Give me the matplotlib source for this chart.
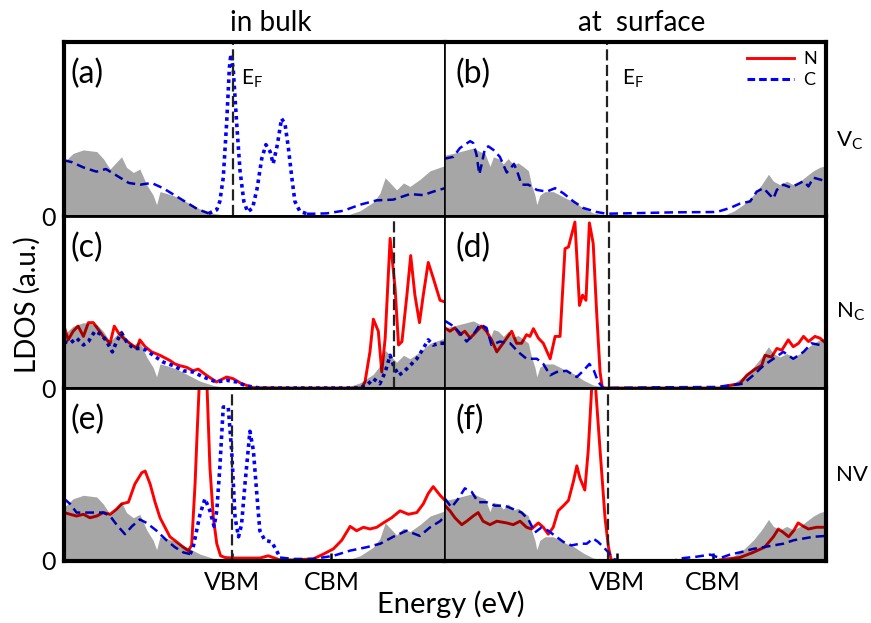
import matplotlib
matplotlib.use('Agg')
import matplotlib.pyplot as plt
import numpy as np

plt.rcParams['font.family'] = ['Lato', 'DejaVu Sans']
plt.rcParams['mathtext.fontset'] = 'custom'
plt.rcParams['mathtext.rm'] = 'Lato'
plt.rcParams['mathtext.it'] = 'Lato:italic'

# ---------------- data (energy in arbitrary units 0..100, LDOS in a.u.) ----------------
# total LDOS (grey) in bulk and at surface
tot_bulk_x = [0, 2.4, 5.1, 8.6, 10.3, 12.1, 13.8, 15.1, 16.4, 18.2, 19.9, 21.7, 23.4, 24.3, 25.2, 26.9,
              29.6, 32.2, 35.7, 39.2, 42, 50, 60, 70, 75, 77.7, 81.2, 82.9, 84.3, 85.6, 87.3, 89.1,
              90.8, 93.4, 96.1, 98.7, 100]
tot_bulk_y = [0.31, 0.36, 0.38, 0.37, 0.33, 0.27, 0.31, 0.34, 0.28, 0.25, 0.27, 0.18, 0.12, 0.065, 0.14, 0.13,
              0.11, 0.08, 0.04, 0.015, 0.006, 0.004, 0.004, 0.004, 0.01, 0.03, 0.08, 0.13, 0.22, 0.19, 0.15, 0.19,
              0.17, 0.21, 0.26, 0.28, 0.29]
tot_surf_x = [0, 2.2, 3.9, 5.7, 7.4, 9.2, 10.5, 11.8, 12.7, 14.0, 15.3, 16.6, 17.9, 19.2, 20.5, 21.9, 22.7,
              23.6, 24.1, 24.9, 26.2, 28.4, 30.2, 31.9, 33.7, 36.3, 38.9, 41.6, 50, 60, 73, 75.7, 78.3,
              80.9, 83.1, 84.9, 86.2, 87.9, 89.7, 91.4, 93.2, 94.9, 96.7, 98.4, 100]
tot_surf_y = [0.35, 0.36, 0.37, 0.38, 0.39, 0.37, 0.36, 0.285, 0.34, 0.33, 0.30, 0.33, 0.295, 0.305, 0.285, 0.26, 0.18,
              0.12, 0.065, 0.12, 0.14, 0.14, 0.12, 0.10, 0.084, 0.046, 0.017, 0.008, 0.003, 0.003, 0.003, 0.027, 0.065,
              0.12, 0.18, 0.24, 0.20, 0.18, 0.20, 0.18, 0.20, 0.23, 0.26, 0.28, 0.29]

# (a) V_C bulk
c_a_x = [0, 2, 5, 8.5, 11, 14, 17, 20, 23, 26, 29, 32, 35, 38, 40.1, 40.9, 41.8, 42.7, 43.4, 43.8, 44.4, 45.3,
         46.2, 47.2, 48.2, 49.5, 50.7, 51.9, 53.0, 54.1, 54.9, 56.0, 57.1, 58.0, 58.9, 59.8, 60.6, 61.9, 63.7,
         65.4, 68.9, 73.3, 77.7, 82.1, 86.4, 90.8, 94.3, 96.9, 100]
c_a_y = [0.32, 0.31, 0.28, 0.255, 0.27, 0.23, 0.19, 0.18, 0.19, 0.16, 0.12, 0.08, 0.04, 0.015, 0.036, 0.084, 0.22,
         0.54, 0.85, 0.93, 0.85, 0.54, 0.26, 0.084, 0.023, 0.046, 0.16, 0.33, 0.41, 0.37, 0.30, 0.41, 0.56, 0.53,
         0.39, 0.22, 0.084, 0.027, 0.013, 0.013, 0.015, 0.03, 0.065, 0.09, 0.094, 0.126, 0.12, 0.14, 0.16]

# (b) V_C surface
c_b_x = [0, 2.2, 3.9, 5.2, 6.6, 7.4, 8.3, 9.0, 9.6, 10.5, 11.4, 12.7, 14.4, 16.2, 17.1, 18.1, 19.2, 20.1, 21.9,
         24.1, 26.7, 28.9, 31.1, 33.7, 36.3, 39.8, 42.4, 51.2, 59.9, 71.3, 74.8, 77.4, 80.1, 81.8, 83.6, 85.3,
         86.2, 87.1, 88.8, 90.6, 92.3, 94.1, 95.4, 96.7, 98.4, 100]
c_b_y = [0.33, 0.34, 0.39, 0.41, 0.43, 0.42, 0.35, 0.24, 0.295, 0.39, 0.40, 0.38, 0.34, 0.25, 0.27, 0.30, 0.24, 0.18,
         0.18, 0.15, 0.14, 0.16, 0.13, 0.084, 0.046, 0.023, 0.013, 0.017, 0.021, 0.023, 0.046, 0.071, 0.084, 0.14,
         0.16, 0.12, 0.10, 0.15, 0.18, 0.165, 0.18, 0.20, 0.17, 0.22, 0.21, 0.20]

# (c) N_C bulk
n_c_x = [0, 1.1, 2.4, 3.7, 5.1, 6.4, 7.7, 9.0, 10.3, 12.1, 13.2, 14.3, 15.6, 17.3, 19.1, 19.9, 21.3, 23.0, 25.2,
         27.8, 29.1, 30.4, 32.2, 33.9, 35.2, 37.4, 40.0, 42.7, 44.4, 46.6, 49.7, 60, 70, 78.1, 79.0, 80.3, 81.2,
         82.5, 83.4, 84.3, 85.6, 86.9, 87.8, 88.7, 90.0, 91.0, 92.1, 93.3, 94.3, 95.6, 96.9, 98.7, 100]
n_c_y = [0.36, 0.28, 0.33, 0.36, 0.30, 0.38, 0.38, 0.34, 0.30, 0.26, 0.36, 0.32, 0.29, 0.26, 0.23, 0.28, 0.24, 0.21,
         0.19, 0.16, 0.14, 0.13, 0.12, 0.10, 0.11, 0.074, 0.035, 0.064, 0.054, 0.025, 0.002, 0.0, 0.0, 0.0, 0.035,
         0.21, 0.40, 0.33, 0.093, 0.29, 0.87, 0.58, 0.25, 0.27, 0.54, 0.77, 0.54, 0.38, 0.54, 0.73, 0.64, 0.51, 0.50]
c_c_x = [0, 1.6, 3.3, 5.1, 6.4, 8.1, 9.9, 11.2, 12.7, 13.8, 15.1, 16.4, 18.2, 19.9, 21.7, 23.4, 26.1, 28.7, 31.3,
         33.9, 36.6, 40.0, 42.7, 45.3, 47.9, 51.4, 65, 77.7, 79.5, 81.2, 82.9, 84.3, 85.6, 86.5, 87.8, 89.1, 90.8,
         92.6, 94.3, 95.6, 96.9, 98.7, 100]
c_c_y = [0.27, 0.26, 0.29, 0.25, 0.27, 0.33, 0.31, 0.27, 0.21, 0.27, 0.32, 0.27, 0.23, 0.23, 0.22, 0.19, 0.15, 0.13,
         0.10, 0.093, 0.064, 0.035, 0.045, 0.035, 0.012, 0.0, 0.0, 0.0, 0.016, 0.054, 0.025, 0.093, 0.19, 0.13,
         0.074, 0.093, 0.13, 0.17, 0.23, 0.28, 0.25, 0.26, 0.26]

# (d) N_C surface
n_d_x = [0, 1.3, 2.6, 3.9, 5.2, 6.6, 7.9, 9.6, 10.9, 12.2, 13.6, 14.9, 16.2, 17.5, 18.8, 20.1, 21.4, 22.3, 23.2,
         24.5, 25.8, 27.6, 28.9, 30.2, 31.5, 32.4, 34.1, 35.3, 36.1, 37.0, 37.9, 38.9, 39.8, 40.7, 41.3, 55, 72.2,
         74.8, 77.4, 79.2, 81.4, 83.1, 84.0, 85.7, 87.1, 88.4, 90.1, 91.4, 92.8, 94.1, 95.4, 97.1, 98.4, 100]
n_d_y = [0.35, 0.33, 0.35, 0.31, 0.33, 0.29, 0.32, 0.36, 0.33, 0.28, 0.21, 0.25, 0.29, 0.33, 0.26, 0.26, 0.31, 0.30,
         0.345, 0.29, 0.26, 0.17, 0.30, 0.30, 0.81, 0.82, 0.965, 0.48, 0.54, 0.51, 0.96, 0.84, 0.44, 0.093, 0.0,
         0.0, 0.0, 0.016, 0.025, 0.074, 0.11, 0.13, 0.19, 0.18, 0.23, 0.22, 0.28, 0.24, 0.26, 0.30, 0.27, 0.30,
         0.29, 0.26]
c_d_x = [0, 2.2, 3.9, 5.7, 7.4, 9.2, 10.9, 12.2, 14.4, 17.1, 19.2, 21.4, 24.1, 25.8, 27.6, 29.3, 31.9, 34.6, 36.3,
         37.9, 39.1, 40.2, 41.6, 55, 71.3, 74.8, 78.3, 80.9, 83.6, 86.2, 88.8, 91.4, 94.1, 96.2, 98.4, 100]
c_d_y = [0.39, 0.36, 0.32, 0.27, 0.31, 0.37, 0.35, 0.25, 0.27, 0.26, 0.21, 0.17, 0.17, 0.14, 0.074, 0.093, 0.10,
         0.064, 0.10, 0.14, 0.10, 0.035, 0.0, 0.004, 0.006, 0.016, 0.025, 0.074, 0.13, 0.17, 0.21, 0.17, 0.21, 0.26,
         0.25, 0.24]

# (e) NV bulk
n_e_x = [0, 1.6, 3.3, 5.1, 6.8, 8.6, 10.3, 12.1, 13.8, 15.1, 16.9, 18.6, 20.4, 21.3, 22.6, 23.9, 25.2, 26.5, 27.8,
         29.6, 31.3, 32.6, 33.5, 34.4, 35.0, 35.4, 36.5, 37.6, 38.3, 39.2, 40.1, 41.1, 42.3, 44.4, 47.9, 51.4,
         53.6, 54.9, 56.7, 60.2, 65.4, 68.1, 70.7, 72.9, 75.1, 76.8, 78.6, 80.3, 82.1, 83.8, 86.0, 88.2, 90.4,
         92.6, 94.3, 95.6, 96.9, 98.7, 100]
n_e_y = [0.28, 0.27, 0.26, 0.27, 0.25, 0.26, 0.28, 0.27, 0.30, 0.33, 0.34, 0.445, 0.51, 0.52, 0.445, 0.34, 0.25,
         0.195, 0.14, 0.11, 0.08, 0.06, 0.09, 0.445, 0.77, 0.97, 1.5, 0.97, 0.54, 0.25, 0.10, 0.03, 0.02, 0.017,
         0.017, 0.017, 0.03, 0.02, 0.006, 0.006, 0.012, 0.04, 0.07, 0.12, 0.20, 0.175, 0.195, 0.185, 0.195, 0.22,
         0.25, 0.29, 0.27, 0.28, 0.33, 0.39, 0.43, 0.38, 0.35]
c_e_x = [0, 1.6, 3.3, 5.1, 7.7, 10.3, 12.1, 13.8, 16.0, 17.8, 19.9, 21.7, 24.3, 26.9, 29.1, 31.3, 33.1, 33.9, 34.8,
         35.7, 37.0, 38.3, 39.4, 40.1, 40.9, 41.8, 43.1, 44.0, 44.9, 45.8, 46.6, 47.5, 48.8, 49.7, 50.6, 51.4,
         52.7, 54.5, 55.8, 56.7, 60.2, 65.4, 70.7, 75.1, 79.5, 83.0, 86.4, 89.9, 93.4, 96.1, 98.7, 100]
c_e_y = [0.36, 0.33, 0.28, 0.28, 0.28, 0.28, 0.26, 0.21, 0.155, 0.20, 0.24, 0.22, 0.175, 0.12, 0.08, 0.05, 0.04,
         0.08, 0.175, 0.27, 0.36, 0.29, 0.20, 0.29, 0.54, 0.89, 0.89, 0.64, 0.25, 0.14, 0.21, 0.445, 0.75, 0.64,
         0.39, 0.175, 0.12, 0.11, 0.06, 0.02, 0.012, 0.012, 0.03, 0.06, 0.08, 0.10, 0.14, 0.175, 0.145, 0.195,
         0.23, 0.26]

# (f) NV surface
n_f_x = [0, 1.3, 2.6, 4.4, 5.7, 7.4, 8.7, 10.0, 11.8, 13.6, 16.2, 17.9, 19.7, 21.4, 22.7, 24.5, 25.8, 27.1, 28.4,
         29.7, 31.1, 32.4, 33.7, 34.6, 35.4, 36.7, 37.6, 38.5, 39.0, 39.6, 40.7, 42.0, 42.9, 43.7, 55, 70.4, 73.9,
         77.4, 80.9, 83.9, 86.2, 87.5, 88.8, 90.2, 91.5, 92.7, 94.1, 95.4, 97.5, 100]
n_f_y = [0.32, 0.29, 0.25, 0.21, 0.23, 0.26, 0.28, 0.23, 0.21, 0.23, 0.22, 0.21, 0.23, 0.195, 0.185, 0.22, 0.195,
         0.155, 0.195, 0.29, 0.32, 0.35, 0.46, 0.55, 0.48, 0.41, 0.64, 1.0, 1.3, 0.98, 0.64, 0.25, 0.08, 0.0, 0.0,
         0.0, 0.012, 0.02, 0.05, 0.08, 0.14, 0.185, 0.165, 0.14, 0.175, 0.22, 0.20, 0.185, 0.195, 0.195]
c_f_x = [0, 1.7, 3.5, 5.2, 7.0, 8.7, 10.9, 13.1, 15.7, 17.9, 20.1, 21.9, 23.6, 25.4, 27.1, 28.9, 31.1, 33.2, 35.4,
         37.2, 38.9, 40.2, 41.6, 42.9, 44.2, 45.9, 59.9, 62.6, 66.1, 69.6, 72.2, 74.8, 77.4, 80.9, 83.6, 86.2,
         88.8, 91.5, 94.1, 96.7, 100]
c_f_y = [0.36, 0.31, 0.36, 0.42, 0.40, 0.34, 0.34, 0.32, 0.32, 0.30, 0.28, 0.24, 0.165, 0.195, 0.175, 0.145, 0.11,
         0.09, 0.10, 0.10, 0.13, 0.11, 0.08, 0.05, 0.012, 0.0, 0.002, 0.017, 0.025, 0.037, 0.017, 0.037, 0.05, 0.07,
         0.08, 0.09, 0.10, 0.12, 0.13, 0.14, 0.145]

# Fermi levels and band edges
ef_pos = {'a': 44.4, 'b': 42.4, 'c': 86.7, 'd': 43.1, 'e': 44.0, 'f': 42.9}
edge_bulk = [44.0, 70.2]
edge_surf = [45.1, 70.4]
edge_labels = ['VBM', 'CBM']
# energy window where the C curve is drawn dotted (defect states)
c_dot_window = {'a': (38, 63.7), 'c': (0, 100), 'e': (33.1, 56.7)}

col_titles = ['in bulk', 'at  surface']
row_labels = ['V$_\\mathrm{C}$', 'N$_\\mathrm{C}$', 'NV']

# ---------------- figure ----------------
fig = plt.figure(figsize=(8.71, 6.23), dpi=100)
W, H = 871.0, 623.0
col_x = [64 / W, 445 / W]
col_w = 381 / W
row_b = [1 - 216 / H, 1 - 388 / H, 1 - 561 / H]
row_h = [174 / H, 172 / H, 173 / H]

panels = {
    'a': dict(tot=(tot_bulk_x, tot_bulk_y), n=None, c=(c_a_x, c_a_y)),
    'b': dict(tot=(tot_surf_x, tot_surf_y), n=None, c=(c_b_x, c_b_y)),
    'c': dict(tot=(tot_bulk_x, tot_bulk_y), n=(n_c_x, n_c_y), c=(c_c_x, c_c_y)),
    'd': dict(tot=(tot_surf_x, tot_surf_y), n=(n_d_x, n_d_y), c=(c_d_x, c_d_y)),
    'e': dict(tot=(tot_bulk_x, tot_bulk_y), n=(n_e_x, n_e_y), c=(c_e_x, c_e_y)),
    'f': dict(tot=(tot_surf_x, tot_surf_y), n=(n_f_x, n_f_y), c=(c_f_x, c_f_y)),
}
order = [['a', 'b'], ['c', 'd'], ['e', 'f']]

DASH = (0, (3.5, 2.0))
DOT = (0, (1.0, 1.1))

for r in range(3):
    for cidx in range(2):
        key = order[r][cidx]
        p = panels[key]
        ax = fig.add_axes([col_x[cidx], row_b[r], col_w, row_h[r]])
        ax.set_xlim(0, 100)
        ax.set_ylim(0, 1)

        if p['n'] is not None:
            ax.plot(p['n'][0], p['n'][1], color='red', lw=2.1, zorder=2, label='N')

        cx = np.array(p['c'][0]); cy = np.array(p['c'][1])
        if key in c_dot_window:
            lo, hi = c_dot_window[key]
            m_dot = (cx >= lo) & (cx <= hi)
            m_l = cx <= lo
            m_r = cx >= hi
            if m_l.sum() > 1:
                ax.plot(cx[m_l], cy[m_l], color='blue', lw=1.8, linestyle=DASH, zorder=2)
            if m_r.sum() > 1:
                ax.plot(cx[m_r], cy[m_r], color='blue', lw=1.8, linestyle=DASH, zorder=2)
            ax.plot(cx[m_dot], cy[m_dot], color='blue', lw=2.6, linestyle=DOT, zorder=2)
        else:
            ax.plot(cx, cy, color='blue', lw=1.8, linestyle=DASH, zorder=2)

        ax.fill_between(p['tot'][0], 0, p['tot'][1], color='black', alpha=0.35, lw=0, zorder=3)
        ax.axvline(ef_pos[key], color='#222222', lw=1.6, linestyle=(0, (5, 2)), zorder=4)

        # spines
        for s in ax.spines.values():
            s.set_linewidth(2.0)
            s.set_zorder(6)
        if cidx == 0:
            ax.spines['left'].set_linewidth(3.0)
            ax.spines['right'].set_linewidth(1.2)
        else:
            ax.spines['right'].set_linewidth(3.0)
            ax.spines['left'].set_linewidth(1.2)
        if r == 0:
            ax.spines['top'].set_linewidth(3.0)
        if r == 2:
            ax.spines['bottom'].set_linewidth(3.0)

        # ticks
        if r == 2:
            edges = edge_bulk if cidx == 0 else edge_surf
            ax.set_xticks(edges)
            ax.set_xticklabels(edge_labels)
            ax.tick_params(axis='x', direction='in', length=6, width=1.8, labelsize=18, pad=7)
        else:
            ax.set_xticks([])
        if cidx == 0:
            ax.set_yticks([0])
            ax.set_yticklabels(['0'])
            ax.tick_params(axis='y', length=0, labelsize=18, pad=6)
        else:
            ax.set_yticks([])

        # panel label
        lx = 0.016 if cidx == 0 else 0.027
        ax.text(lx, 0.762, '(%s)' % key, transform=ax.transAxes, fontsize=23, va='baseline', ha='left')

        if key in ('a', 'b'):
            ax.text(0.465, 0.755, 'E$_\\mathrm{F}$', transform=ax.transAxes, fontsize=15,
                    va='baseline', ha='left')
        if key == 'b':
            ax.plot([], [], color='red', lw=2.1, label='N')
            ax.plot([], [], color='blue', lw=2.2, linestyle=(0, (2.5, 1.3)), label='C')
            ax.legend(loc='upper right', bbox_to_anchor=(1.0, 1.0), frameon=False, fontsize=13,
                      handlelength=2.6, handletextpad=0.5, labelspacing=0.3, borderpad=0.3,
                      borderaxespad=0.2)

# column titles, row labels, axis labels
fig.text(271 / W, 1 - 31 / H, col_titles[0], fontsize=20, ha='center', va='baseline')
fig.text(642 / W, 1 - 31 / H, col_titles[1], fontsize=20, ha='center', va='baseline')
row_base = [1 - 147 / H, 1 - 318 / H, 1 - 481 / H]
for lab, yb in zip(row_labels, row_base):
    fig.text(836 / W, yb, lab, fontsize=16, ha='left', va='baseline')
fig.text(27 / W, 1 - 305 / H, 'LDOS (a.u.)', fontsize=20, rotation=90, ha='center', va='center')
fig.text(451 / W, 1 - 613 / H, 'Energy (eV)', fontsize=21, ha='center', va='baseline')

fig.savefig('out.png', dpi=100, facecolor='white')
